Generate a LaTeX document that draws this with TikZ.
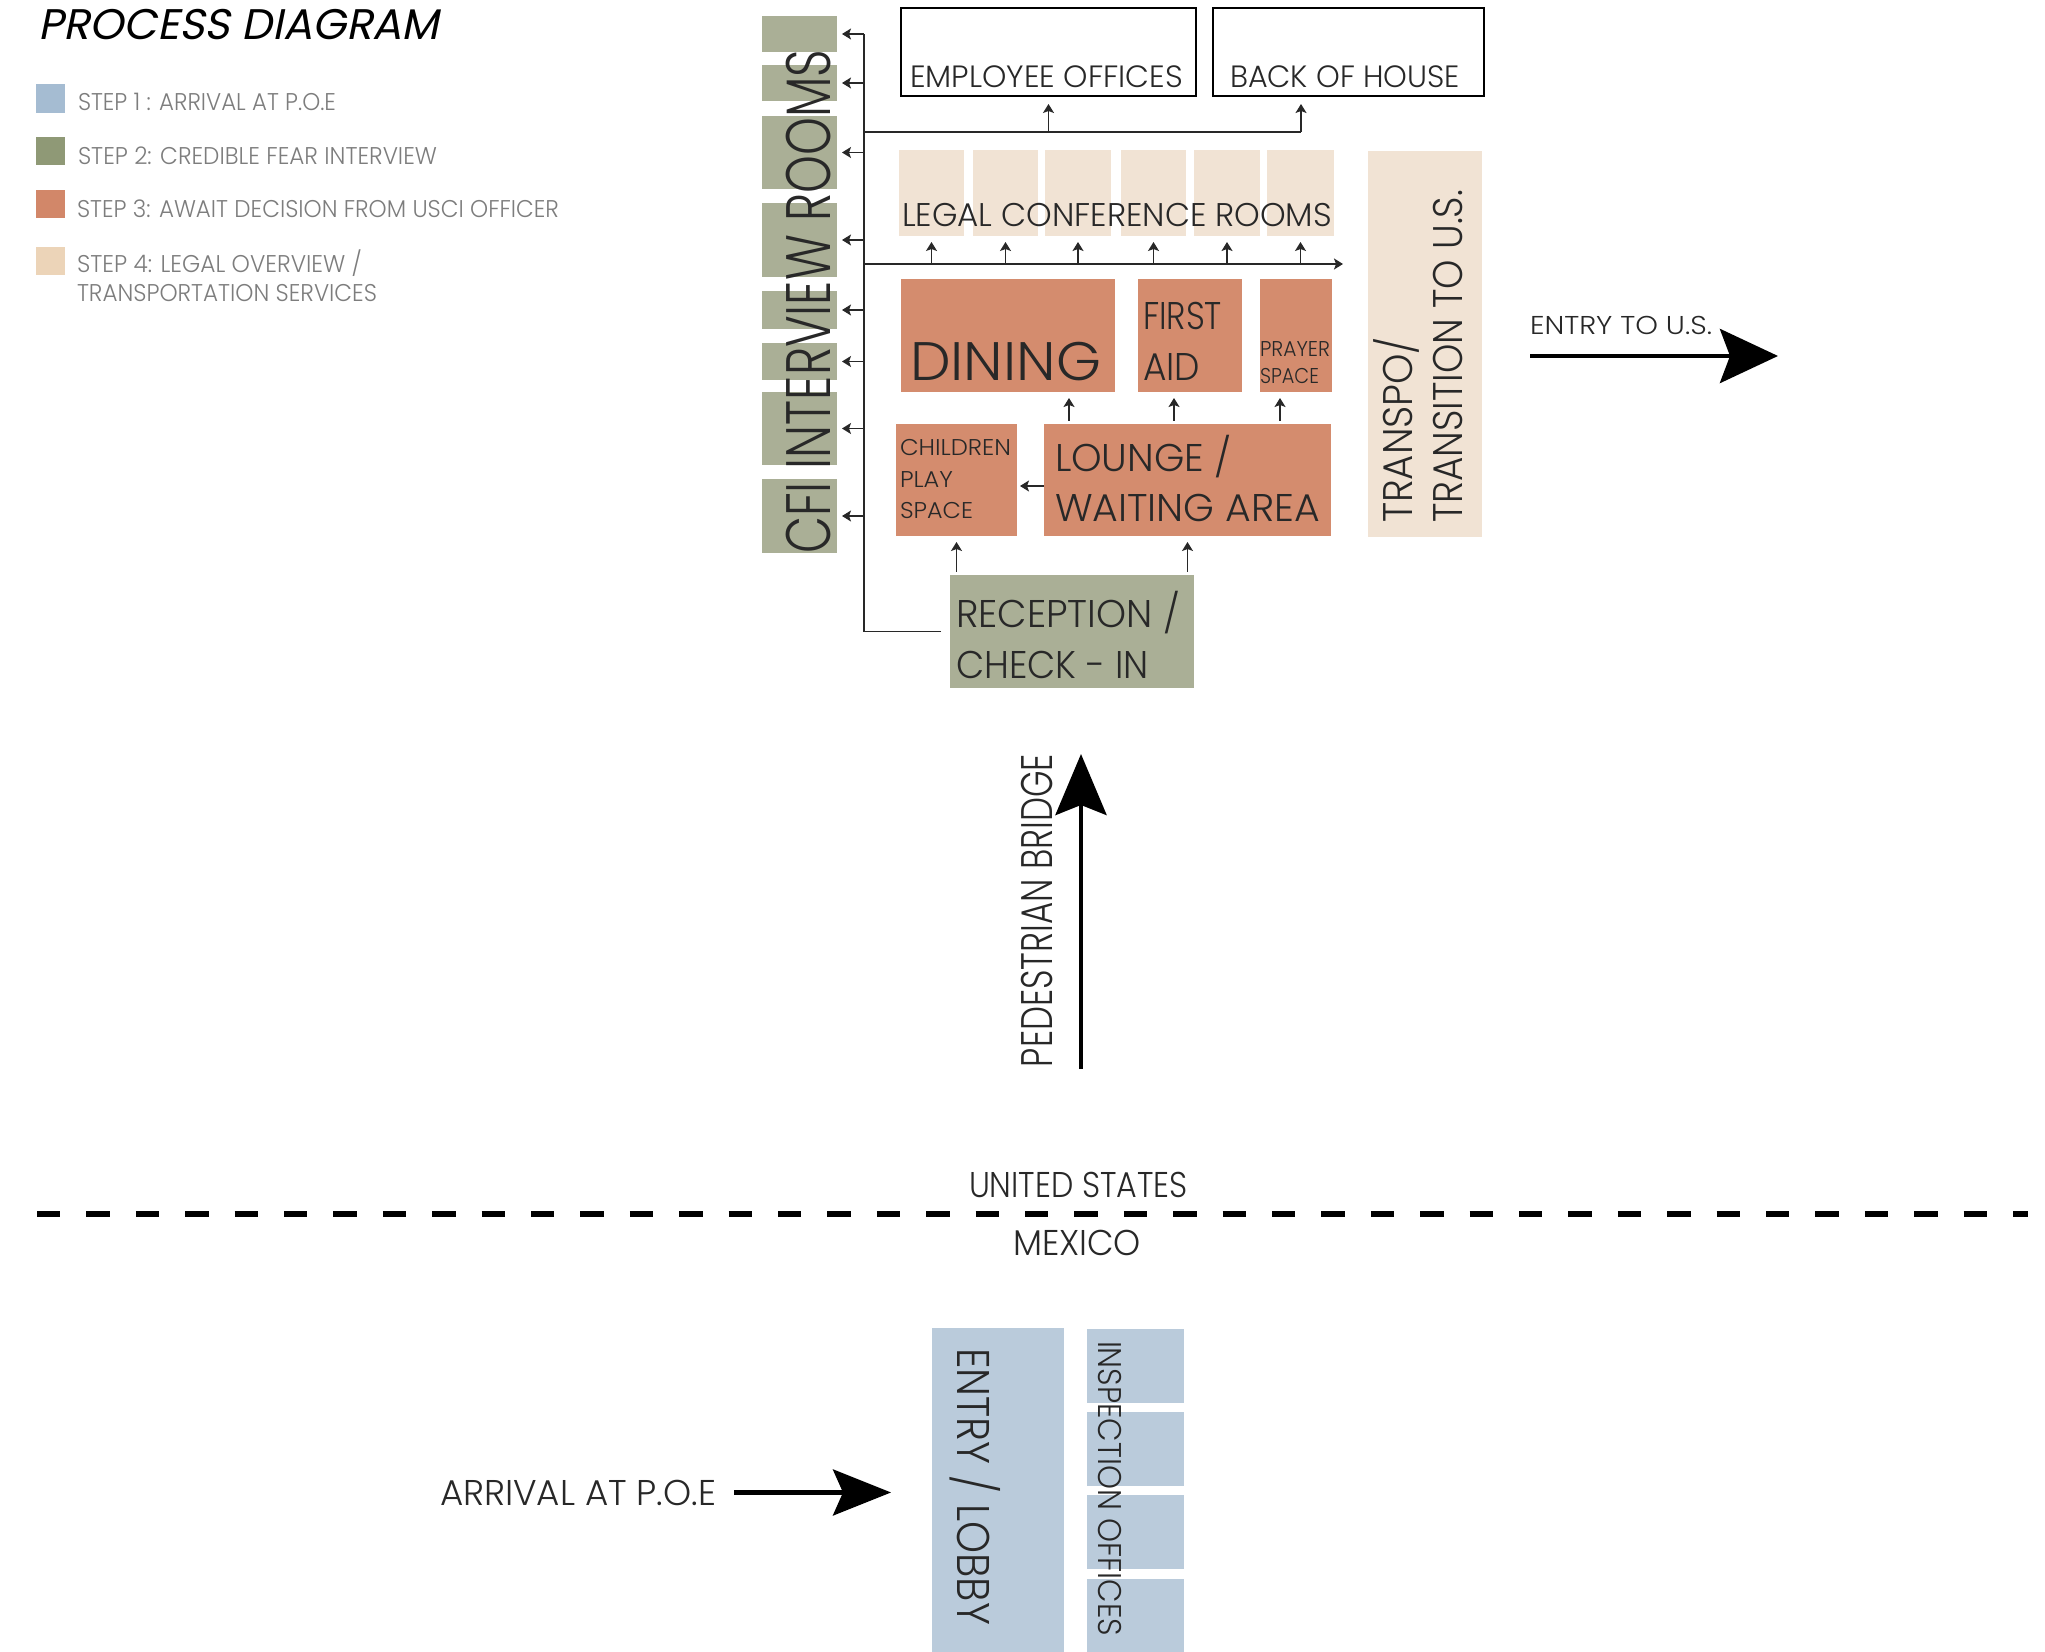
\documentclass[tikz,border=0pt]{standalone}
\usepackage{fontspec}
\IfFontExistsTF{Poppins Light}{\setmainfont{Poppins Light}}{\setmainfont{Poppins}}
\newfontfamily\titlefont{Poppins}[FakeSlant=0.2]
\usepackage{graphicx}
\usepackage{xcolor}
\usepackage{tikz}
\usetikzlibrary{
  arrows.meta,
  fit,
  calc
}
\definecolor{stepblue}{RGB}{186,203,219}
\definecolor{stepgreen}{RGB}{170,175,150}
\definecolor{steporange}{RGB}{212,140,110}
\definecolor{stepbeige}{RGB}{241,227,212}
\definecolor{keyblue}{RGB}{165,188,210}
\definecolor{keygreen}{RGB}{143,153,118}
\definecolor{keyorange}{RGB}{210,135,105}
\definecolor{keybeige}{RGB}{236,212,184}
\definecolor{ink}{RGB}{40,40,40}
\definecolor{keygray}{RGB}{125,125,125}
\newcommand{\fitw}[2]{\resizebox{#1}{\height}{#2}}

\begin{document}
\begin{tikzpicture}[
  x=0.5pt, y=-0.5pt,
  fs/.style 2 args={font=\fontsize{#1pt}{#2pt}\selectfont},
  room/.style={rectangle, inner sep=0pt, outer sep=0pt},
  office/.style={room, draw=black, line width=0.8pt},
  lbl/.style={inner sep=0pt, outer sep=0pt, anchor=base west, align=left, text=ink},
  keytxt/.style={lbl, text=keygray, fs={12.1}{14.5}},
  line/.style={draw=ink, line width=0.7pt},
  arr/.style={line, -{Stealth[length=4.5pt,width=5.5pt,inset=1pt]}, shorten >=3pt},
  bigarr/.style={-{Stealth[length=29pt,width=27pt,inset=5pt]}, line width=2.4pt},
  border/.style={line width=2.7pt, dash pattern=on 11.7pt off 13pt},
]
  \fill[white] (0,0) rectangle (2045,1652);
  \useasboundingbox (0,0) rectangle (2045,1652);

  % Title and key
  \node[lbl, text=black, font=\titlefont\fontsize{21.4pt}{24pt}\selectfont] (title) at (38,40) {\fitw{200.5pt}{PROCESS DIAGRAM}};
  \node[room, fill=keyblue, fit={(36,84) (65,113)}] (key1) {};
  \node[room, fill=keygreen, fit={(36,137) (65,165)}] (key2) {};
  \node[room, fill=keyorange, fit={(36,190) (65,218)}] (key3) {};
  \node[room, fill=keybeige, fit={(36,247) (65,275)}] (key4) {};
  \node[keytxt] (keytext1) at (78,111) {\fitw{129pt}{STEP 1 : ARRIVAL AT P.O.E}};
  \node[keytxt] (keytext2) at (78,165) {\fitw{179.5pt}{STEP 2: CREDIBLE FEAR INTERVIEW}};
  \node[keytxt] (keytext3) at (77,218) {\fitw{241pt}{STEP 3: AWAIT DECISION FROM USCI OFFICER}};
  \node[keytxt] (keytext4) at (77,302) {\fitw{142.5pt}{STEP 4: LEGAL OVERVIEW /}\\\fitw{150pt}{TRANSPORTATION SERVICES}};

  % Rooms
  \foreach \i/\ya/\yb in {1/16/52, 2/65/101, 3/116/189, 4/203/277, 5/291/329, 6/343/380, 7/392/465, 8/479/553}
    \node[room, fill=stepgreen, fit={(762,\ya) (837,\yb)}] (cfi\i) {};
  \node[office, fit={(901,8) (1196,96)}] (emp) {};
  \node[office, fit={(1213,8) (1484,96)}] (back) {};
  \foreach \i/\xa/\xb in {1/899/964, 2/973/1038, 3/1045/1111, 4/1121/1186, 5/1194/1260, 6/1267/1334}
    \node[room, fill=stepbeige, fit={(\xa,150) (\xb,236)}] (legal\i) {};
  \node[room, fill=steporange, fit={(901,279) (1115,392)}] (dining) {};
  \node[room, fill=steporange, fit={(1138,279) (1242,392)}] (firstaid) {};
  \node[room, fill=steporange, fit={(1260,279) (1332,392)}] (prayer) {};
  \node[room, fill=steporange, fit={(896,424) (1017,536)}] (children) {};
  \node[room, fill=steporange, fit={(1044,424) (1331,536)}] (lounge) {};
  \node[room, fill=stepgreen, fit={(950,575) (1194,688)}] (reception) {};
  \node[room, fill=stepbeige, fit={(1368,151) (1482,537)}] (transpo) {};
  \node[room, fill=stepblue, fit={(932,1328) (1064,1660)}] (lobby) {};
  \foreach \i/\ya/\yb in {1/1329/1403, 2/1412/1486, 3/1495/1569, 4/1579/1660}
    \node[room, fill=stepblue, fit={(1087,\ya) (1184,\yb)}] (insp\i) {};

  % Labels
  \node[lbl, rotate=90, fs={31.4}{34}] (cfilbl) at (830,554) {\fitw{252pt}{CFI INTERVIEW ROOMS}};
  \node[lbl, fs={15.4}{18}] (emplbl) at (910,87.5) {\fitw{136.5pt}{EMPLOYEE OFFICES}};
  \node[lbl, fs={15.4}{18}] (backlbl) at (1230,87.5) {\fitw{115pt}{BACK OF HOUSE}};
  \node[lbl, fs={16.4}{19}] (legallbl) at (902,227) {\fitw{215pt}{LEGAL CONFERENCE ROOMS}};
  \node[lbl, fs={27.1}{30}] (dininglbl) at (910,381) {\fitw{95.5pt}{DINING}};
  \node[lbl, fs={19.3}{25.5}] (firstaidlbl) at (1143,381) {\fitw{39.5pt}{FIRST}\\\fitw{28.5pt}{AID}};
  \node[lbl, fs={10.7}{13.5}] (prayerlbl) at (1260,384) {\fitw{35pt}{PRAYER}\\\fitw{29.5pt}{SPACE}};
  \node[lbl, fs={11.4}{15.75}] (childrenlbl) at (900,519) {\fitw{55.5pt}{CHILDREN}\\\fitw{26.5pt}{PLAY}\\\fitw{36.5pt}{SPACE}};
  \node[lbl, fs={19.3}{25}] (loungelbl) at (1055,522) {\fitw{88.5pt}{LOUNGE /}\\\fitw{132.5pt}{WAITING AREA}};
  \node[lbl, fs={19.3}{25.5}] (receptionlbl) at (956,678) {\fitw{112pt}{RECEPTION /}\\\fitw{96.5pt}{CHECK - IN}};
  \node[lbl, rotate=90, fs={20.7}{25}] (transpolbl) at (1462,523) {\fitw{93pt}{TRANSPO/}\\\fitw{166.5pt}{TRANSITION TO U.S.}};
  \node[lbl, fs={12.9}{15}] (entrylbl) at (1530,335) {\fitw{91pt}{ENTRY TO U.S.}};
  \node[lbl, rotate=90, fs={22.1}{25}] (bridgelbl) at (1052,1067) {\fitw{156.5pt}{PEDESTRIAN BRIDGE}};
  \node[lbl, fs={17.9}{20}] (uslbl) at (969,1197.5) {\fitw{109.5pt}{UNITED STATES}};
  \node[lbl, fs={17.9}{20}] (mxlbl) at (1013,1255) {\fitw{64pt}{MEXICO}};
  \node[lbl, rotate=-90, fs={22.9}{25}] (lobbylbl) at (957,1348) {\fitw{138.5pt}{ENTRY / LOBBY}};
  \node[lbl, rotate=-90, fs={16.4}{19}] (insplbl) at (1098,1341) {\fitw{147.5pt}{INSPECTION OFFICES}};
  \node[lbl, fs={17.9}{20}] (arrival) at (440,1505) {\fitw{138pt}{ARRIVAL AT P.O.E}};

  % Edges
  \coordinate (trunk) at (864,34);
  \coordinate (obus) at (864,132);
  \coordinate (lbus) at (864,264);
  \coordinate (lbusend) at (1343,264);
  \coordinate (bohin) at ($(back.south west)+(88,0)$);
  \draw[line, shorten <=4.5pt] (reception.west) -| (trunk);
  \foreach \i in {1,...,8}
    \draw[arr, shorten >=2.5pt] (trunk |- cfi\i.east) -- (cfi\i.east);
  \draw[line] (obus) -- (obus -| bohin);
  \draw[arr, shorten >=4pt] (obus -| emp.south) -- (emp.south);
  \draw[arr, shorten >=4pt] (obus -| bohin) -- (bohin);
  \draw[arr, shorten >=0pt] (lbus) -- (lbusend);
  \foreach \i in {1,...,6}
    \draw[arr] (lbus -| legal\i.south) -- (legal\i.south);
  \foreach \dx/\room in {25/dining, 130/firstaid, 236/prayer}
    \draw[arr, shorten <=1.5pt] ($(lounge.north west)+(\dx,0)$) coordinate (s) -- (s |- \room.south);
  \draw[arr, shorten >=1.5pt] ([yshift=-3pt]lounge.west) -- ([yshift=-3pt]lounge.west -| children.east);
  \draw[arr, shorten <=1.5pt] (reception.north -| children.south) -- (children.south);
  \draw[arr, shorten <=1.5pt] (reception.north -| lounge.south) -- (lounge.south);

  % Big arrows and border
  \coordinate (usa) at (1778,356);
  \coordinate (bridgefoot) at (1081,1069);
  \coordinate (bridgetop) at (1081,754);
  \coordinate (bl) at (37,1214);
  \coordinate (br) at (2028,1214);
  \draw[bigarr] (entrylbl.base west |- usa) -- (usa);
  \draw[bigarr, -{Stealth[length=30.5pt,width=25.5pt,inset=5pt]}] (bridgefoot) -- (bridgetop);
  \draw[bigarr, -{Stealth[length=29pt,width=23pt,inset=5pt]}, shorten >=20.5pt] ([xshift=9pt]arrival.east) -- (arrival.east -| lobby.west);
  \draw[border] (bl) -- (br);
\end{tikzpicture}
\end{document}
